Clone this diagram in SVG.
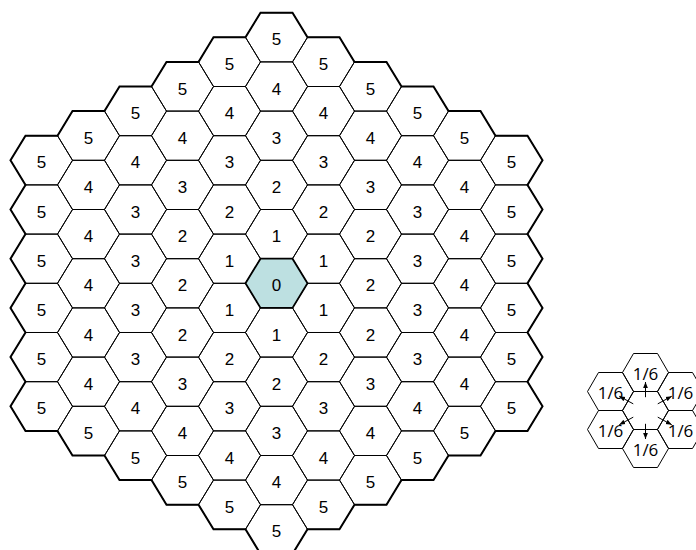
<svg xmlns="http://www.w3.org/2000/svg" xmlns:xlink="http://www.w3.org/1999/xlink" width="696" height="550" viewBox="0 0 696 550">
<style>
.cell{fill:none;stroke:#000;stroke-width:1}
.ctr{fill:#bde0e1;stroke:#000;stroke-width:1.8}
.border{fill:none;stroke:#000;stroke-width:2;stroke-linejoin:miter}
.num{font-family:"Liberation Sans",Arial,sans-serif;font-size:17px;text-anchor:middle;fill:#000}
.frac{font-family:"Open Sans","DejaVu Sans",sans-serif;font-size:17px;text-anchor:middle;fill:#000}
.scell{fill:none;stroke:#000;stroke-width:1}
.arr{stroke:#000;stroke-width:1;fill:none;marker-end:url(#ah)}
</style>
<defs>
<polygon id="hx" points="-31,0 -16,-24.6 16,-24.6 31,0 16,24.6 -16,24.6"/>
<polygon id="sh" points="-23,0 -12,-19 12,-19 23,0 12,19 -12,19"/>
<marker id="ah" viewBox="0 0 10 10" refX="10" refY="5" markerWidth="6" markerHeight="6" orient="auto" markerUnits="userSpaceOnUse"><path d="M0,1 L10,5 L0,9 z" fill="#000"/></marker>
</defs>
<g id="grid">
<!-- column q=-5 -->
<g id="h_m5_a" transform="translate(41.5 160.3)"><use href="#hx" class="cell"/><text class="num" y="8">5</text></g>
<g id="h_m5_b" transform="translate(41.5 209.5)"><use href="#hx" class="cell"/><text class="num" y="8">5</text></g>
<g id="h_m5_c" transform="translate(41.5 258.7)"><use href="#hx" class="cell"/><text class="num" y="8">5</text></g>
<g id="h_m5_d" transform="translate(41.5 307.9)"><use href="#hx" class="cell"/><text class="num" y="8">5</text></g>
<g id="h_m5_e" transform="translate(41.5 357.1)"><use href="#hx" class="cell"/><text class="num" y="8">5</text></g>
<g id="h_m5_f" transform="translate(41.5 406.3)"><use href="#hx" class="cell"/><text class="num" y="8">5</text></g>
<!-- column q=-4 -->
<g id="h_m4_a" transform="translate(88.5 135.7)"><use href="#hx" class="cell"/><text class="num" y="8">5</text></g>
<g id="h_m4_b" transform="translate(88.5 184.9)"><use href="#hx" class="cell"/><text class="num" y="8">4</text></g>
<g id="h_m4_c" transform="translate(88.5 234.1)"><use href="#hx" class="cell"/><text class="num" y="8">4</text></g>
<g id="h_m4_d" transform="translate(88.5 283.3)"><use href="#hx" class="cell"/><text class="num" y="8">4</text></g>
<g id="h_m4_e" transform="translate(88.5 332.5)"><use href="#hx" class="cell"/><text class="num" y="8">4</text></g>
<g id="h_m4_f" transform="translate(88.5 381.7)"><use href="#hx" class="cell"/><text class="num" y="8">4</text></g>
<g id="h_m4_g" transform="translate(88.5 430.9)"><use href="#hx" class="cell"/><text class="num" y="8">5</text></g>
<!-- column q=-3 -->
<g id="h_m3_a" transform="translate(135.5 111.1)"><use href="#hx" class="cell"/><text class="num" y="8">5</text></g>
<g id="h_m3_b" transform="translate(135.5 160.3)"><use href="#hx" class="cell"/><text class="num" y="8">4</text></g>
<g id="h_m3_c" transform="translate(135.5 209.5)"><use href="#hx" class="cell"/><text class="num" y="8">3</text></g>
<g id="h_m3_d" transform="translate(135.5 258.7)"><use href="#hx" class="cell"/><text class="num" y="8">3</text></g>
<g id="h_m3_e" transform="translate(135.5 307.9)"><use href="#hx" class="cell"/><text class="num" y="8">3</text></g>
<g id="h_m3_f" transform="translate(135.5 357.1)"><use href="#hx" class="cell"/><text class="num" y="8">3</text></g>
<g id="h_m3_g" transform="translate(135.5 406.3)"><use href="#hx" class="cell"/><text class="num" y="8">4</text></g>
<g id="h_m3_h" transform="translate(135.5 455.5)"><use href="#hx" class="cell"/><text class="num" y="8">5</text></g>
<!-- column q=-2 -->
<g id="h_m2_a" transform="translate(182.5 86.5)"><use href="#hx" class="cell"/><text class="num" y="8">5</text></g>
<g id="h_m2_b" transform="translate(182.5 135.7)"><use href="#hx" class="cell"/><text class="num" y="8">4</text></g>
<g id="h_m2_c" transform="translate(182.5 184.9)"><use href="#hx" class="cell"/><text class="num" y="8">3</text></g>
<g id="h_m2_d" transform="translate(182.5 234.1)"><use href="#hx" class="cell"/><text class="num" y="8">2</text></g>
<g id="h_m2_e" transform="translate(182.5 283.3)"><use href="#hx" class="cell"/><text class="num" y="8">2</text></g>
<g id="h_m2_f" transform="translate(182.5 332.5)"><use href="#hx" class="cell"/><text class="num" y="8">2</text></g>
<g id="h_m2_g" transform="translate(182.5 381.7)"><use href="#hx" class="cell"/><text class="num" y="8">3</text></g>
<g id="h_m2_h" transform="translate(182.5 430.9)"><use href="#hx" class="cell"/><text class="num" y="8">4</text></g>
<g id="h_m2_i" transform="translate(182.5 480.1)"><use href="#hx" class="cell"/><text class="num" y="8">5</text></g>
<!-- column q=-1 -->
<g id="h_m1_a" transform="translate(229.5 61.9)"><use href="#hx" class="cell"/><text class="num" y="8">5</text></g>
<g id="h_m1_b" transform="translate(229.5 111.1)"><use href="#hx" class="cell"/><text class="num" y="8">4</text></g>
<g id="h_m1_c" transform="translate(229.5 160.3)"><use href="#hx" class="cell"/><text class="num" y="8">3</text></g>
<g id="h_m1_d" transform="translate(229.5 209.5)"><use href="#hx" class="cell"/><text class="num" y="8">2</text></g>
<g id="h_m1_e" transform="translate(229.5 258.7)"><use href="#hx" class="cell"/><text class="num" y="8">1</text></g>
<g id="h_m1_f" transform="translate(229.5 307.9)"><use href="#hx" class="cell"/><text class="num" y="8">1</text></g>
<g id="h_m1_g" transform="translate(229.5 357.1)"><use href="#hx" class="cell"/><text class="num" y="8">2</text></g>
<g id="h_m1_h" transform="translate(229.5 406.3)"><use href="#hx" class="cell"/><text class="num" y="8">3</text></g>
<g id="h_m1_i" transform="translate(229.5 455.5)"><use href="#hx" class="cell"/><text class="num" y="8">4</text></g>
<g id="h_m1_j" transform="translate(229.5 504.7)"><use href="#hx" class="cell"/><text class="num" y="8">5</text></g>
<!-- column q=0 -->
<g id="h_0_a" transform="translate(276.5 37.3)"><use href="#hx" class="cell"/><text class="num" y="8">5</text></g>
<g id="h_0_b" transform="translate(276.5 86.5)"><use href="#hx" class="cell"/><text class="num" y="8">4</text></g>
<g id="h_0_c" transform="translate(276.5 135.7)"><use href="#hx" class="cell"/><text class="num" y="8">3</text></g>
<g id="h_0_d" transform="translate(276.5 184.9)"><use href="#hx" class="cell"/><text class="num" y="8">2</text></g>
<g id="h_0_e" transform="translate(276.5 234.1)"><use href="#hx" class="cell"/><text class="num" y="8">1</text></g>
<g id="h_0_g" transform="translate(276.5 332.5)"><use href="#hx" class="cell"/><text class="num" y="8">1</text></g>
<g id="h_0_h" transform="translate(276.5 381.7)"><use href="#hx" class="cell"/><text class="num" y="8">2</text></g>
<g id="h_0_i" transform="translate(276.5 430.9)"><use href="#hx" class="cell"/><text class="num" y="8">3</text></g>
<g id="h_0_j" transform="translate(276.5 480.1)"><use href="#hx" class="cell"/><text class="num" y="8">4</text></g>
<g id="h_0_k" transform="translate(276.5 529.3)"><use href="#hx" class="cell"/><text class="num" y="8">5</text></g>
<!-- column q=1 -->
<g id="h_1_a" transform="translate(323.5 61.9)"><use href="#hx" class="cell"/><text class="num" y="8">5</text></g>
<g id="h_1_b" transform="translate(323.5 111.1)"><use href="#hx" class="cell"/><text class="num" y="8">4</text></g>
<g id="h_1_c" transform="translate(323.5 160.3)"><use href="#hx" class="cell"/><text class="num" y="8">3</text></g>
<g id="h_1_d" transform="translate(323.5 209.5)"><use href="#hx" class="cell"/><text class="num" y="8">2</text></g>
<g id="h_1_e" transform="translate(323.5 258.7)"><use href="#hx" class="cell"/><text class="num" y="8">1</text></g>
<g id="h_1_f" transform="translate(323.5 307.9)"><use href="#hx" class="cell"/><text class="num" y="8">1</text></g>
<g id="h_1_g" transform="translate(323.5 357.1)"><use href="#hx" class="cell"/><text class="num" y="8">2</text></g>
<g id="h_1_h" transform="translate(323.5 406.3)"><use href="#hx" class="cell"/><text class="num" y="8">3</text></g>
<g id="h_1_i" transform="translate(323.5 455.5)"><use href="#hx" class="cell"/><text class="num" y="8">4</text></g>
<g id="h_1_j" transform="translate(323.5 504.7)"><use href="#hx" class="cell"/><text class="num" y="8">5</text></g>
<!-- column q=2 -->
<g id="h_2_a" transform="translate(370.5 86.5)"><use href="#hx" class="cell"/><text class="num" y="8">5</text></g>
<g id="h_2_b" transform="translate(370.5 135.7)"><use href="#hx" class="cell"/><text class="num" y="8">4</text></g>
<g id="h_2_c" transform="translate(370.5 184.9)"><use href="#hx" class="cell"/><text class="num" y="8">3</text></g>
<g id="h_2_d" transform="translate(370.5 234.1)"><use href="#hx" class="cell"/><text class="num" y="8">2</text></g>
<g id="h_2_e" transform="translate(370.5 283.3)"><use href="#hx" class="cell"/><text class="num" y="8">2</text></g>
<g id="h_2_f" transform="translate(370.5 332.5)"><use href="#hx" class="cell"/><text class="num" y="8">2</text></g>
<g id="h_2_g" transform="translate(370.5 381.7)"><use href="#hx" class="cell"/><text class="num" y="8">3</text></g>
<g id="h_2_h" transform="translate(370.5 430.9)"><use href="#hx" class="cell"/><text class="num" y="8">4</text></g>
<g id="h_2_i" transform="translate(370.5 480.1)"><use href="#hx" class="cell"/><text class="num" y="8">5</text></g>
<!-- column q=3 -->
<g id="h_3_a" transform="translate(417.5 111.1)"><use href="#hx" class="cell"/><text class="num" y="8">5</text></g>
<g id="h_3_b" transform="translate(417.5 160.3)"><use href="#hx" class="cell"/><text class="num" y="8">4</text></g>
<g id="h_3_c" transform="translate(417.5 209.5)"><use href="#hx" class="cell"/><text class="num" y="8">3</text></g>
<g id="h_3_d" transform="translate(417.5 258.7)"><use href="#hx" class="cell"/><text class="num" y="8">3</text></g>
<g id="h_3_e" transform="translate(417.5 307.9)"><use href="#hx" class="cell"/><text class="num" y="8">3</text></g>
<g id="h_3_f" transform="translate(417.5 357.1)"><use href="#hx" class="cell"/><text class="num" y="8">3</text></g>
<g id="h_3_g" transform="translate(417.5 406.3)"><use href="#hx" class="cell"/><text class="num" y="8">4</text></g>
<g id="h_3_h" transform="translate(417.5 455.5)"><use href="#hx" class="cell"/><text class="num" y="8">5</text></g>
<!-- column q=4 -->
<g id="h_4_a" transform="translate(464.5 135.7)"><use href="#hx" class="cell"/><text class="num" y="8">5</text></g>
<g id="h_4_b" transform="translate(464.5 184.9)"><use href="#hx" class="cell"/><text class="num" y="8">4</text></g>
<g id="h_4_c" transform="translate(464.5 234.1)"><use href="#hx" class="cell"/><text class="num" y="8">4</text></g>
<g id="h_4_d" transform="translate(464.5 283.3)"><use href="#hx" class="cell"/><text class="num" y="8">4</text></g>
<g id="h_4_e" transform="translate(464.5 332.5)"><use href="#hx" class="cell"/><text class="num" y="8">4</text></g>
<g id="h_4_f" transform="translate(464.5 381.7)"><use href="#hx" class="cell"/><text class="num" y="8">4</text></g>
<g id="h_4_g" transform="translate(464.5 430.9)"><use href="#hx" class="cell"/><text class="num" y="8">5</text></g>
<!-- column q=5 -->
<g id="h_5_a" transform="translate(511.5 160.3)"><use href="#hx" class="cell"/><text class="num" y="8">5</text></g>
<g id="h_5_b" transform="translate(511.5 209.5)"><use href="#hx" class="cell"/><text class="num" y="8">5</text></g>
<g id="h_5_c" transform="translate(511.5 258.7)"><use href="#hx" class="cell"/><text class="num" y="8">5</text></g>
<g id="h_5_d" transform="translate(511.5 307.9)"><use href="#hx" class="cell"/><text class="num" y="8">5</text></g>
<g id="h_5_e" transform="translate(511.5 357.1)"><use href="#hx" class="cell"/><text class="num" y="8">5</text></g>
<g id="h_5_f" transform="translate(511.5 406.3)"><use href="#hx" class="cell"/><text class="num" y="8">5</text></g>
<!-- centre -->
<g id="h_0_f" transform="translate(276.5 283.3)"><use href="#hx" class="ctr"/><text class="num" y="8">0</text></g>
<polygon id="outline" class="border" points="260.5,12.7 292.5,12.7 307.5,37.3 339.5,37.3 354.5,61.9 386.5,61.9 401.5,86.5 433.5,86.5 448.5,111.1 480.5,111.1 495.5,135.7 527.5,135.7 542.5,160.3 527.5,184.9 542.5,209.5 527.5,234.1 542.5,258.7 527.5,283.3 542.5,307.9 527.5,332.5 542.5,357.1 527.5,381.7 542.5,406.3 527.5,430.9 495.5,430.9 480.5,455.5 448.5,455.5 433.5,480.1 401.5,480.1 386.5,504.7 354.5,504.7 339.5,529.3 307.5,529.3 292.5,553.9 260.5,553.9 245.5,529.3 213.5,529.3 198.5,504.7 166.5,504.7 151.5,480.1 119.5,480.1 104.5,455.5 72.5,455.5 57.5,430.9 25.5,430.9 10.5,406.3 25.5,381.7 10.5,357.1 25.5,332.5 10.5,307.9 25.5,283.3 10.5,258.7 25.5,234.1 10.5,209.5 25.5,184.9 10.5,160.3 25.5,135.7 57.5,135.7 72.5,111.1 104.5,111.1 119.5,86.5 151.5,86.5 166.5,61.9 198.5,61.9 213.5,37.3 245.5,37.3"/>
</g>
<g id="small">
<g id="s_c" transform="translate(645.5 410.5)"><use href="#sh" class="scell"/></g>
<g id="s_t" transform="translate(645.5 372.5)"><use href="#sh" class="scell"/><text class="frac" y="7">1/6</text></g>
<g id="s_b" transform="translate(645.5 448.5)"><use href="#sh" class="scell"/><text class="frac" y="7">1/6</text></g>
<g id="s_ul" transform="translate(610.5 391.5)"><use href="#sh" class="scell"/><text class="frac" y="7">1/6</text></g>
<g id="s_ll" transform="translate(610.5 429.5)"><use href="#sh" class="scell"/><text class="frac" y="7">1/6</text></g>
<g id="s_ur" transform="translate(680.5 391.5)"><use href="#sh" class="scell"/><text class="frac" y="7">1/6</text></g>
<g id="s_lr" transform="translate(680.5 429.5)"><use href="#sh" class="scell"/><text class="frac" y="7">1/6</text></g>
</g>
<g id="connectors">
<line class="arr" x1="645.5" y1="397.2" x2="645.5" y2="382"/>
<line class="arr" x1="645.5" y1="423.8" x2="645.5" y2="439"/>
<line class="arr" x1="633.25" y1="403.85" x2="619.25" y2="396.25"/>
<line class="arr" x1="657.75" y1="403.85" x2="671.75" y2="396.25"/>
<line class="arr" x1="633.25" y1="417.15" x2="619.25" y2="424.75"/>
<line class="arr" x1="657.75" y1="417.15" x2="671.75" y2="424.75"/>
</g>
</svg>
